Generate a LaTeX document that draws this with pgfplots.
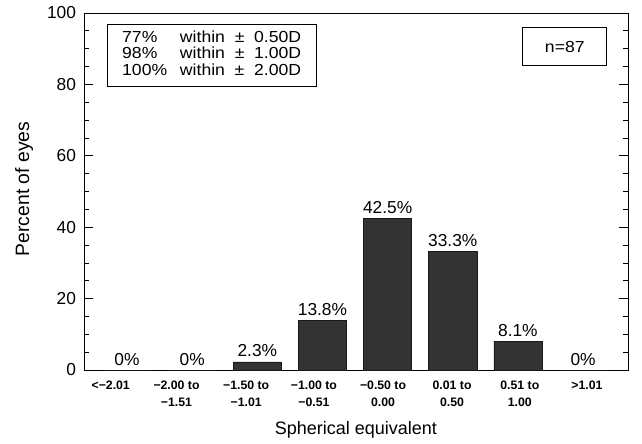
\documentclass[border=0pt]{standalone}
\usepackage{pgfplots}
\pgfplotsset{compat=1.18}
\usepackage{fontspec}
\setmainfont{Liberation Sans}
\newfontfamily\wide{Liberation Sans}[FakeStretch=1.1]
\begin{document}
\begin{tikzpicture}
\begin{axis}[
  scale only axis, width=408pt, height=267.75pt,
  xmin=-0.66, xmax=7.69, ymin=0, ymax=100,
  axis line style={line width=0.6pt},
  /pgf/number format/assume math mode=true,
  ytick={0,20,...,100}, minor y tick num=3,
  tick align=inside, ytick pos=both,
  major tick length=6.75pt, minor tick length=3.75pt,
  every tick/.style={line width=0.6pt, black},
  yticklabel style={font=\fontsize{13}{13}\selectfont, xshift=-2.5pt},
  xtick={-0.25,0.76,1.83,2.87,3.93,4.99,6.03,7.06},
  xtick style={draw=none},
  xticklabels={{<−2.01},{−2.00 to\\−1.51},{−1.50 to\\−1.01},{−1.00 to\\−0.51},{−0.50 to\\0.00},{0.01 to\\0.50},{0.51 to\\1.00},{>1.01}},
  xticklabel style={font=\bfseries\fontsize{9.2}{12.75}\selectfont, align=center, anchor=north, yshift=2pt},
  xlabel={Spherical equivalent},
  xlabel style={font=\fontsize{13.5}{13.5}\selectfont, at={(rel axis cs:0.5,-0.168)}, anchor=center},
  ylabel={Percent of eyes},
  ylabel style={font=\fontsize{14.5}{14.5}\selectfont, at={(rel axis cs:-0.110,0.507)}, anchor=center},
  ybar, bar width=0.74,
  nodes near coords={\pgfplotspointmeta},
  point meta=explicit symbolic,
  nodes near coords style={font=\fontsize{13}{13}\selectfont, black},
]
\addplot[fill=black!80, draw=black!90, line width=0.4pt] coordinates {
  (0,0) [0\%]
  (1,0) [0\%]
  (2,2.3) [2.3\%]
  (3,13.8) [13.8\%]
  (4,42.5) [42.5\%]
  (5,33.3) [33.3\%]
  (6,8.1) [8.1\%]
  (7,0) [0\%]
};
\node[draw=black, line width=0.6pt, minimum width=157pt, minimum height=46pt, inner sep=0pt, font=\wide\fontsize{12}{12.5}\selectfont] at (axis cs:1.30,88.1) {%
  \begin{tabular}{@{}l@{\hspace{0.8em}}l@{}}77\% & within \ ± \ 0.50D\\98\% & within \ ± \ 1.00D\\100\% & within \ ± \ 2.00D\end{tabular}};
\node[draw=black, line width=0.6pt, minimum width=63pt, minimum height=29pt, inner sep=0pt, font=\wide\fontsize{12}{12.5}\selectfont] at (axis cs:6.72,90.6) {n=87};
\end{axis}
\pgfresetboundingbox
\path[use as bounding box] ([xshift=-63pt,yshift=-54.75pt]current axis.south west) rectangle ([xshift=10.5pt,yshift=9.75pt]current axis.north east);
\end{tikzpicture}
\end{document}
